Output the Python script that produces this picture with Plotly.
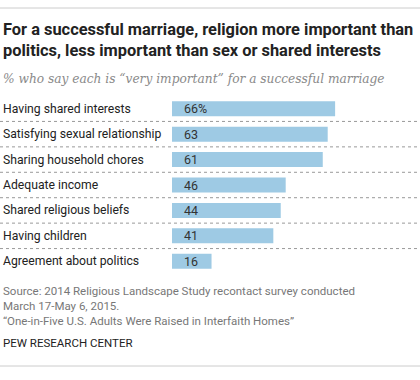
import plotly.graph_objects as go

categories = ["Having shared interests", "Satisfying sexual relationship", "Sharing household chores",
              "Adequate income", "Shared religious beliefs", "Having children", "Agreement about politics"]
values = [66, 63, 61, 46, 44, 41, 16]
value_labels = ["66%", "63", "61", "46", "44", "41", "16"]

W, H = 420, 380
L, R, T, B = 172, 75, 96, 106
PW, PH = W - L - R, H - T - B

def px2x(px):
    return (px - L) / PW

def px2y(py):
    return (H - B - py) / PH

BAR = "#9ecae4"
SANS = "Roboto, sans-serif"

fig = go.Figure(go.Bar(
    x=values, y=categories, orientation="h",
    marker=dict(color=BAR, line=dict(width=0)),
    width=0.59, hoverinfo="skip",
))

ann = []
for c, lab in zip(categories, value_labels):
    ann.append(dict(x=0, y=c, xref="x", yref="y", text=lab, showarrow=False,
                    xanchor="left", xshift=10, font=dict(family=SANS, size=12.5, color="#333")))
    ann.append(dict(x=px2x(1), y=c, xref="paper", yref="y", text=c, showarrow=False,
                    xanchor="left", font=dict(family=SANS, size=12.2, color="#222")))

ann.append(dict(x=px2x(1), y=px2y(40.5), xref="paper", yref="paper", xanchor="left", yanchor="middle",
                text="<b>For a successful marriage, religion more important than<br>politics, less important than sex or shared interests</b>",
                align="left", showarrow=False, font=dict(family=SANS, size=16.4, color="#222")))
ann.append(dict(x=px2x(1), y=px2y(79), xref="paper", yref="paper", xanchor="left", yanchor="middle",
                text="<i>% who say each is \u201cvery important\u201d for a successful marriage</i>",
                showarrow=False, font=dict(family="DejaVu Serif", size=12.2, color="#8a8a8a")))
ann.append(dict(x=px2x(1), y=px2y(306), xref="paper", yref="paper", xanchor="left", yanchor="middle",
                text="Source: 2014 Religious Landscape Study recontact survey conducted<br>March 17-May 6, 2015.<br>\u201cOne-in-Five U.S. Adults Were Raised in Interfaith Homes\u201d",
                align="left", showarrow=False, font=dict(family=SANS, size=11.5, color="#777")))
ann.append(dict(x=px2x(1), y=px2y(343), xref="paper", yref="paper", xanchor="left", yanchor="middle",
                text="PEW RESEARCH CENTER", showarrow=False, font=dict(family=SANS, size=11.5, color="#222")))

shapes = []
for k in range(len(categories) - 1):
    shapes.append(dict(type="line", xref="paper", yref="y", x0=px2x(0), x1=px2x(418),
                       y0=k + 0.5, y1=k + 0.5, line=dict(color="#999", width=1, dash="dot")))
for py in (8, 366):
    shapes.append(dict(type="line", xref="paper", yref="paper", x0=px2x(0), x1=px2x(420),
                       y0=px2y(py), y1=px2y(py), line=dict(color="#ccc", width=1)))

fig.update_layout(
    width=W, height=H, margin=dict(l=L, r=R, t=T, b=B),
    paper_bgcolor="white", plot_bgcolor="white", showlegend=False,
    xaxis=dict(range=[0, 70], visible=False, fixedrange=True),
    yaxis=dict(autorange=False, range=[len(categories) - 0.5, -0.5], visible=False,
               categoryorder="array", categoryarray=categories, fixedrange=True),
    annotations=ann, shapes=shapes,
)
fig.write_html("out.html", config={"displayModeBar": False},
               post_script="document.body.style.margin='0';document.body.style.padding='0';")
